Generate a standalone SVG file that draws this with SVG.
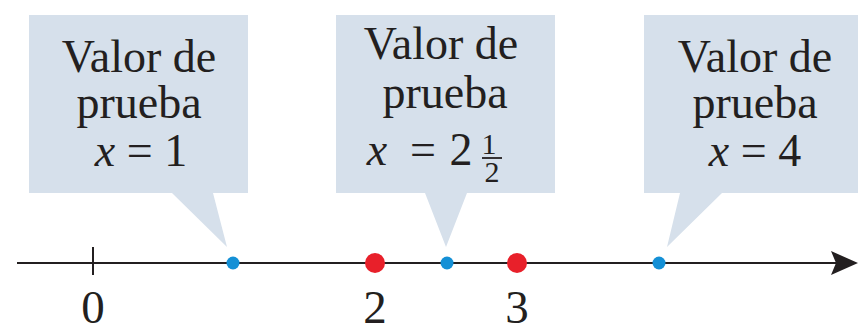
<svg xmlns="http://www.w3.org/2000/svg" width="858" height="333" viewBox="0 0 858 333">
<style>
.box{fill:#d6e0eb;stroke:none}
.t{font-family:"Liberation Serif","Times New Roman",serif;font-size:46px;fill:#231f20;text-anchor:middle}
.i{font-style:italic}
.n{font-family:"Liberation Serif","Times New Roman",serif;font-size:47px;fill:#231f20;text-anchor:middle}
.fr{font-family:"Liberation Serif","Times New Roman",serif;font-size:30px;fill:#231f20;text-anchor:middle}
.blue{fill:#1490d6}
.red{fill:#e8202a}
</style>
<rect width="858" height="333" fill="#ffffff"/>
<g id="box1">
<path class="box" d="M29,15 H248 V193 H213 L227,247 L172,193 H29 Z"/>
<text class="t" x="139" y="72">Valor de</text>
<text class="t" x="139" y="118">prueba</text>
<text class="t" x="141" y="166"><tspan class="i">x</tspan> = 1</text>
</g>
<g id="box2">
<path class="box" d="M336,15 H555 V193 H467 L446,247 L425,193 H336 Z"/>
<text class="t" x="441" y="59">Valor de</text>
<text class="t" x="445" y="108">prueba</text>
<text class="t" x="377" y="165"><tspan class="i">x</tspan></text>
<text class="t" x="423" y="165">=</text>
<text class="t" x="461" y="165">2</text>
<text class="fr" x="489" y="154">1</text>
<line x1="482" y1="158" x2="502" y2="158" stroke="#231f20" stroke-width="1.8"/>
<text class="fr" x="492" y="182">2</text>
</g>
<g id="box3">
<path class="box" d="M644,15 H858 V193 H722 L667,247 L680,193 H644 Z"/>
<text class="t" x="755" y="72">Valor de</text>
<text class="t" x="755" y="118">prueba</text>
<text class="t" x="755" y="166"><tspan class="i">x</tspan> = 4</text>
</g>
<g id="connectors">
<line x1="17" y1="263" x2="840" y2="263" stroke="#231f20" stroke-width="2"/>
<path d="M858,263 L831,251 L836,263 L831,275 Z" fill="#231f20"/>
<line x1="93" y1="247" x2="93" y2="275" stroke="#231f20" stroke-width="2"/>
</g>
<g id="points">
<circle class="blue" cx="233" cy="263" r="6.5"/>
<circle class="red" cx="375" cy="263" r="10"/>
<circle class="blue" cx="447" cy="263" r="6.5"/>
<circle class="red" cx="517" cy="263" r="10"/>
<circle class="blue" cx="659" cy="263" r="6.5"/>
</g>
<g id="labels">
<text class="n" x="93" y="323">0</text>
<text class="n" x="375" y="323">2</text>
<text class="n" x="517" y="323">3</text>
</g>
</svg>
